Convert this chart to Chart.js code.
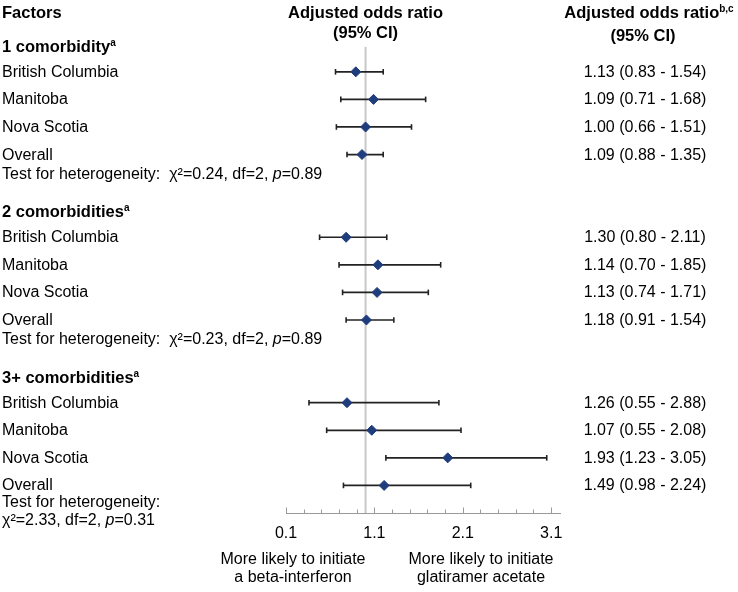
<!DOCTYPE html>
<html>
<head>
<meta charset="utf-8">
<script src="https://cdn.jsdelivr.net/npm/chart.js@4.4.1/dist/chart.umd.min.js"></script>
<style>
  body { margin: 0; background: #fff; }
  #wrap { position: relative; width: 738px; height: 592px; font-family: Arial, "Liberation Sans", sans-serif; color: #000; }
  #wrap canvas { position: absolute; left: 0; top: 0; }
  .lbl { position: absolute; font-size: 16px; line-height: 18px; white-space: nowrap; transform: translateY(-50%); }
  .b { font-weight: bold; font-size: 16.5px; }
  .c { transform: translate(-50%, -50%); text-align: center; }
  .lbl sup { font-size: 10px; line-height: 0; vertical-align: 6px; }
</style>
</head>
<body>
<div id="wrap"><canvas id="forest"></canvas></div>
<script>
const groups = ['1 comorbidity', '2 comorbidities', '3+ comorbidities'];
const sites = ['British Columbia', 'Manitoba', 'Nova Scotia', 'Overall'];

// point estimates and CI ends as drawn in the figure (BC, MB, NS, Overall)
const est = [
  [0.89, 1.09, 1.00, 0.96],
  [0.78, 1.14, 1.13, 1.01],
  [0.79, 1.07, 1.93, 1.21],
];
const lower = [
  [0.66, 0.72, 0.67, 0.79],
  [0.48, 0.70, 0.74, 0.78],
  [0.36, 0.56, 1.23, 0.75],
];
const upper = [
  [1.20, 1.68, 1.52, 1.20],
  [1.24, 1.85, 1.71, 1.32],
  [1.83, 2.08, 3.05, 2.19],
];

// right-hand text column
const orText = [
  ['1.13 (0.83 - 1.54)', '1.09 (0.71 - 1.68)', '1.00 (0.66 - 1.51)', '1.09 (0.88 - 1.35)'],
  ['1.30 (0.80 - 2.11)', '1.14 (0.70 - 1.85)', '1.13 (0.74 - 1.71)', '1.18 (0.91 - 1.54)'],
  ['1.26 (0.55 - 2.88)', '1.07 (0.55 - 2.08)', '1.93 (1.23 - 3.05)', '1.49 (0.98 - 2.24)'],
];

const chi2 = ['0.24', '0.23', '2.33'];
const dfs = ['2', '2', '2'];
const pvals = ['0.89', '0.89', '0.31'];

const xTicks = [0.1, 0.3, 0.5, 0.7, 0.9, 1.1, 1.3, 1.5, 1.7, 1.9, 2.1, 2.3, 2.5, 2.7, 2.9, 3.1];
const xLabels = ['0.1', '1.1', '2.1', '3.1'];
const nullValue = 1;

const ROWS_PER_GROUP = 6;
const rowOf = (g, i) => g * ROWS_PER_GROUP + i;

const isMajor = (v) => xLabels.includes(v.toFixed(1));

const datasets = [];

// diamonds
const pts = [];
est.forEach((arr, g) => arr.forEach((v, i) => pts.push({ x: v, y: rowOf(g, i) })));
datasets.push({
  type: 'scatter',
  data: pts,
  pointStyle: 'rectRot',
  pointRadius: 5,
  backgroundColor: '#1f3c7c',
  borderColor: '#1f3c7c',
  borderWidth: 1,
});

// whisker caps
const caps = [];
lower.forEach((arr, g) => arr.forEach((v, i) => {
  caps.push({ x: v, y: rowOf(g, i) });
  caps.push({ x: upper[g][i], y: rowOf(g, i) });
}));
datasets.push({
  type: 'scatter',
  data: caps,
  pointStyle: 'line',
  rotation: 90,
  pointRadius: 2.8,
  borderColor: '#222',
  borderWidth: 1.6,
});

// whiskers
lower.forEach((arr, g) => arr.forEach((v, i) => {
  datasets.push({
    type: 'line',
    data: [{ x: v, y: rowOf(g, i) }, { x: upper[g][i], y: rowOf(g, i) }],
    borderColor: '#222',
    borderWidth: 1.7,
    pointRadius: 0,
  });
}));

// reference line at OR = 1
datasets.push({
  type: 'line',
  data: [{ x: nullValue, y: -0.9 }, { x: nullValue, y: 16 }],
  borderColor: '#c8c8c8',
  borderWidth: 2,
  pointRadius: 0,
});

const tickMarks = {
  id: 'tickMarks',
  afterDraw(chart) {
    const s = chart.scales.x;
    const ctx = chart.ctx;
    ctx.save();
    ctx.strokeStyle = '#9a9a9a';
    ctx.lineWidth = 1;
    s.ticks.forEach((t) => {
      const px = Math.round(s.getPixelForValue(t.value)) + 0.5;
      const h = isMajor(t.value) ? 5.5 : 3.5;
      ctx.beginPath();
      ctx.moveTo(px, s.top);
      ctx.lineTo(px, s.top - h);
      ctx.stroke();
    });
    ctx.restore();
  },
};

function addLabel(html, x, y, cls) {
  const d = document.createElement('div');
  d.className = 'lbl ' + (cls || '');
  d.innerHTML = html;
  d.style.left = x + 'px';
  d.style.top = y + 'px';
  document.getElementById('wrap').appendChild(d);
}

let placed = false;
const htmlLabels = {
  id: 'htmlLabels',
  afterRender(chart) {
    if (placed) return;
    placed = true;
    const y = chart.scales.y;
    const xs = chart.scales.x;
    const midX = xs.getPixelForValue(nullValue);

    addLabel('Factors', 2, 12, 'b');
    addLabel('Adjusted odds ratio', midX, 12, 'b c');
    addLabel('(95% CI)', midX, 32, 'b c');
    addLabel('Adjusted odds ratio<sup>b,c</sup>', 649, 12, 'b c');
    addLabel('(95% CI)', 643, 35, 'b c');

    groups.forEach((name, g) => {
      addLabel(name + '<sup>a</sup>', 2, y.getPixelForValue(rowOf(g, -0.95)), 'b');
      sites.forEach((s, i) => {
        const py = y.getPixelForValue(rowOf(g, i));
        addLabel(s, 2, py);
        addLabel(orText[g][i], 645, py, 'c');
      });
      const stats = '\u03c7\u00b2=' + chi2[g] + ', df=' + dfs[g] + ', <i>p</i>=' + pvals[g];
      if (g === groups.length - 1) {
        addLabel('Test for heterogeneity:<br>' + stats, 2, y.getPixelForValue(rowOf(g, 3.92)));
      } else {
        addLabel('Test for heterogeneity:&nbsp;&nbsp;' + stats, 2, y.getPixelForValue(rowOf(g, 3.7)));
      }
    });

    addLabel('More likely to initiate<br>a beta-interferon', 293, 568, 'c');
    addLabel('More likely to initiate<br>glatiramer acetate', 481, 568, 'c');
  },
};

new Chart(document.getElementById('forest'), {
  type: 'scatter',
  data: { datasets: datasets },
  options: {
    responsive: true,
    maintainAspectRatio: false,
    animation: false,
    events: [],
    layout: { padding: { left: 286, right: 178, top: 47, bottom: 49 } },
    plugins: { legend: { display: false }, tooltip: { enabled: false } },
    scales: {
      x: {
        type: 'linear',
        min: 0.1,
        max: 3.2,
        afterBuildTicks: (s) => { s.ticks = xTicks.map((v) => ({ value: v })); },
        afterFit: (s) => { s.height = 30; },
        grid: { display: false, drawTicks: false },
        border: { display: true, color: '#9a9a9a', width: 1 },
        ticks: {
          autoSkip: false,
          maxRotation: 0,
          padding: 11,
          color: '#000',
          font: { size: 16, family: 'Arial, "Liberation Sans", sans-serif' },
          callback: (v) => (isMajor(v) ? v.toFixed(1) : ''),
        },
      },
      y: {
        type: 'linear',
        min: -0.9,
        max: 16,
        reverse: true,
        display: false,
      },
    },
  },
  plugins: [tickMarks, htmlLabels],
});
</script>
</body>
</html>
